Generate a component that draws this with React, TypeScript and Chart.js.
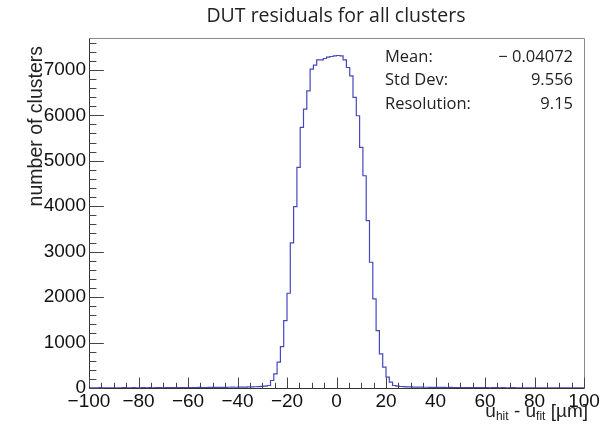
import React, { useEffect, useRef } from "react";
import { Chart, registerables } from "chart.js";

Chart.register(...registerables);

const TITLE = "DUT residuals for all clusters";
const Y_TITLE = "number of clusters";
const X_MIN = -100;
const X_MAX = 100;
const Y_MAX = 7700;
const X_TICKS = [-100, -80, -60, -40, -20, 0, 20, 40, 60, 80, 100];
const Y_TICKS = [0, 1000, 2000, 3000, 4000, 5000, 6000, 7000];
const X_MINOR = 5;
const Y_MINOR = 200;

// bin counts (150 bins from -100 to 100)
const LEFT_TAIL = [
  4, 6, 3, 5, 7, 4, 6, 5, 3, 6,
  5, 7, 4, 6, 8, 5, 6, 7, 5, 8,
  6, 7, 9, 6, 8, 7, 9, 8, 10, 7,
  9, 11, 8, 10, 12, 9, 11, 13, 12, 14,
  13, 15, 14, 16, 18, 17, 19, 21, 20, 23,
  24, 27, 30, 34, 40,
];
const LEFT_FLANK = [55, 165, 311, 568, 912, 1484, 2084, 3191, 3989, 4853];
const PEAK = [5732, 6136, 6538, 7015, 7103, 7220, 7220, 7249, 7280, 7293, 7308, 7315, 7308, 7220, 7051, 6868];
const RIGHT_FLANK = [6392, 5989, 5293, 4670, 3681, 2766, 1960, 1264, 751, 458, 238, 128, 55];
const RIGHT_TAIL = [
  40, 33, 29, 26, 23, 21, 20, 18, 17, 16,
  15, 14, 13, 14, 12, 11, 12, 10, 11, 9,
  10, 9, 8, 9, 8, 7, 9, 7, 6, 8,
  7, 6, 7, 5, 6, 7, 5, 6, 4, 5,
  6, 4, 5, 3, 5, 4, 6, 3, 4, 5,
  3, 4, 5, 3, 4, 3,
];

const STATS_LABELS = ["Mean:", "Std Dev:", "Resolution:"];
const STATS_VALUES = ["\u2212 0.04072", "9.556", "9.15"];

const COUNTS = [...LEFT_TAIL, ...LEFT_FLANK, ...PEAK, ...RIGHT_FLANK, ...RIGHT_TAIL];

const fmt = (v: number) => (v < 0 ? "\u2212" + Math.abs(v) : String(v));

const rootPlugin = {
  id: "rootDecor",
  afterDatasetsDraw(chart: any) {
    const { ctx, chartArea: a, scales } = chart;
    const xs = scales.x;
    const ys = scales.y;
    ctx.save();
    ctx.lineWidth = 1;
    ctx.strokeStyle = "#8a8a8a";
    ctx.beginPath();
    ctx.moveTo(Math.round(a.left) + 0.5, Math.round(a.top) + 0.5);
    ctx.lineTo(Math.round(a.right) + 0.5, Math.round(a.top) + 0.5);
    ctx.lineTo(Math.round(a.right) + 0.5, Math.round(a.bottom) + 0.5);
    ctx.stroke();
    ctx.strokeStyle = "#333";
    ctx.beginPath();
    ctx.moveTo(Math.round(a.left) + 0.5, Math.round(a.top) + 0.5);
    ctx.lineTo(Math.round(a.left) + 0.5, Math.round(a.bottom) + 0.5);
    ctx.lineTo(Math.round(a.right) + 0.5, Math.round(a.bottom) + 0.5);
    ctx.stroke();
    const xLen = 0.03 * (a.bottom - a.top);
    const yLen = 0.03 * (a.right - a.left);
    ctx.strokeStyle = "#444";
    ctx.beginPath();
    for (let v = X_MIN; v <= X_MAX + 1e-9; v += X_MINOR) {
      const px = Math.round(xs.getPixelForValue(v)) + 0.5;
      const major = X_TICKS.includes(v);
      const len = major ? xLen : xLen / 2;
      ctx.moveTo(px, a.bottom);
      ctx.lineTo(px, a.bottom - len);
    }
    for (let v = 0; v <= Y_MAX + 1e-9; v += Y_MINOR) {
      const py = Math.round(ys.getPixelForValue(v)) + 0.5;
      const major = Y_TICKS.includes(v);
      const len = major ? yLen : yLen / 2;
      ctx.moveTo(a.left, py);
      ctx.lineTo(a.left + len, py);
    }
    ctx.stroke();
    ctx.restore();
  },
  afterDraw(chart: any) {
    const { ctx, chartArea: a } = chart;
    ctx.save();
    ctx.fillStyle = "#222";
    ctx.font = "19.5px 'Open Sans'";
    ctx.textAlign = "center";
    ctx.textBaseline = "middle";
    ctx.fillText(TITLE, 336, 16);

    ctx.save();
    ctx.font = "19.5px 'Liberation Sans'";
    ctx.translate(42, a.top + 8);
    ctx.rotate(-Math.PI / 2);
    ctx.textAlign = "right";
    ctx.textBaseline = "alphabetic";
    ctx.fillText(Y_TITLE, 0, 0);
    ctx.restore();

    const big = "19px 'Liberation Sans'";
    const small = "12px 'Liberation Sans'";
    const parts: [string, boolean][] = [["u", false], ["hit", true], [" - u", false], ["fit", true], [" [\u00b5m]", false]];
    let total = 0;
    for (const [t, sub] of parts) {
      ctx.font = sub ? small : big;
      total += ctx.measureText(t).width;
    }
    let x = a.right + 4 - total;
    const base = a.bottom + 29;
    ctx.textAlign = "left";
    ctx.textBaseline = "alphabetic";
    for (const [t, sub] of parts) {
      ctx.font = sub ? small : big;
      ctx.fillText(t, x, sub ? base + 3 : base);
      x += ctx.measureText(t).width;
    }

    ctx.font = "16.5px 'Open Sans'";
    ctx.textBaseline = "middle";
    STATS_LABELS.forEach((lab, i) => {
      const y = a.top + 19 + i * 23.5;
      ctx.textAlign = "left";
      ctx.fillText(lab, 385, y);
      ctx.textAlign = "right";
      ctx.fillText(STATS_VALUES[i], 573, y);
    });
    ctx.restore();
  },
};

export default function App() {
  const ref = useRef<HTMLCanvasElement | null>(null);
  useEffect(() => {
    if (!ref.current) return;
    const width = (X_MAX - X_MIN) / COUNTS.length;
    const points = COUNTS.map((c, k) => ({ x: X_MIN + k * width, y: c }));
    points.push({ x: X_MAX, y: COUNTS[COUNTS.length - 1] });
    const tickFont = { family: "'Liberation Sans'", size: 19 };
    const chart = new Chart(ref.current, {
      type: "line",
      data: {
        datasets: [
          {
            data: points,
            stepped: "after",
            borderColor: "#4646c0",
            borderWidth: 1.2,
            pointRadius: 0,
            fill: false,
          },
        ],
      },
      options: {
        responsive: false,
        animation: false,
        layout: { padding: { top: 38, right: 20, left: 0, bottom: 0 } },
        plugins: { legend: { display: false }, tooltip: { enabled: false }, title: { display: false } },
        scales: {
          x: {
            type: "linear",
            min: X_MIN,
            max: X_MAX,
            grid: { display: false, drawTicks: false },
            border: { display: false },
            afterBuildTicks: (s: any) => {
              s.ticks = X_TICKS.map((v) => ({ value: v }));
            },
            ticks: {
              autoSkip: false,
              maxRotation: 0,
              padding: 2,
              color: "#111",
              font: tickFont,
              callback: (v: any) => fmt(Number(v)),
            },
            afterFit: (s: any) => {
              s.height = 43;
            },
          },
          y: {
            type: "linear",
            min: 0,
            max: Y_MAX,
            grid: { display: false, drawTicks: false },
            border: { display: false },
            afterBuildTicks: (s: any) => {
              s.ticks = Y_TICKS.map((v) => ({ value: v }));
            },
            ticks: {
              autoSkip: false,
              padding: 3,
              color: "#111",
              font: tickFont,
              callback: (v: any) => fmt(Number(v)),
            },
            afterFit: (s: any) => {
              s.width = 89;
            },
          },
        },
      } as any,
      plugins: [rootPlugin],
    });
    return () => chart.destroy();
  }, []);
  return (
    <div style={{ position: "absolute", left: 0, top: 0, width: 604, height: 431, background: "#fff" }}>
      <canvas ref={ref} width={604} height={431} />
    </div>
  );
}
